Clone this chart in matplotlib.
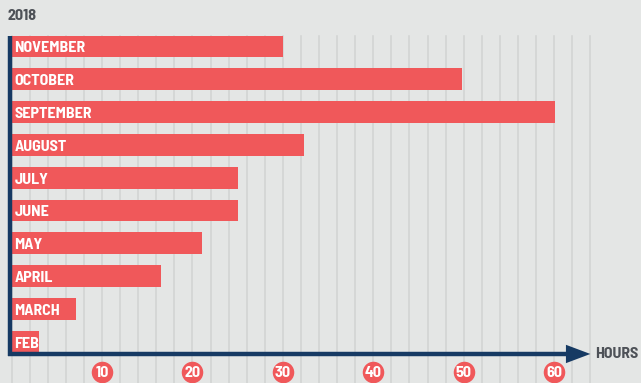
import matplotlib.pyplot as plt
import numpy as np

months = ['NOVEMBER', 'OCTOBER', 'SEPTEMBER', 'AUGUST', 'JULY', 'JUNE',
          'MAY', 'APRIL', 'MARCH', 'FEB']
hours = [30, 49.8, 60, 32.3, 25, 25, 21, 16.5, 7.1, 3]
ticks = [10, 20, 30, 40, 50, 60]

bg = '#e4e6e5'
red = '#f0585a'
navy = '#163a63'
font = ['Barlow Semi Condensed', 'Roboto Condensed', 'Roboto', 'DejaVu Sans']
wt = 'bold'

fig = plt.figure(figsize=(6.41, 3.83), dpi=100, facecolor=bg)
ax = fig.add_axes([0, 0, 1, 1])
ax.set_facecolor(bg)
ax.set_xlim(-1.28, 69.6)
ax.set_ylim(10.26, -1.418)
ax.axis('off')

# grid lines
for gx in np.arange(0, 65, 2):
    ax.plot([gx, gx], [-0.33, 10.3], color='#d3d5d4', lw=1.2, zorder=0)

# bars
y = np.arange(len(months))
ax.barh(y, hours, height=0.67, color=red, left=0.05, zorder=2)
for yi, m in zip(y, months):
    ax.text(0.3, yi + 0.06, m, color='white', fontsize=11.5, fontweight=wt,
            family=font, va='center', ha='left', zorder=3)

# axes
axis_y = 9.375
ax.plot([-0.15, -0.15], [-0.33, axis_y + 0.05], color=navy, lw=3.2,
        solid_capstyle='butt', zorder=4)
ax.plot([-0.35, 61.5], [axis_y, axis_y], color=navy, lw=3.2,
        solid_capstyle='butt', zorder=4)
ax.fill([61.3, 64.0, 61.3], [axis_y - 0.28, axis_y, axis_y + 0.28],
        color=navy, lw=0, zorder=4)
ax.text(64.5, axis_y, 'HOURS', color='#4d5157', fontsize=11.5, fontweight=wt,
        family=font, va='center', ha='left')

# tick labels
ax.scatter(ticks, [9.92] * len(ticks), s=240, color=red, zorder=5, lw=0)
for t in ticks:
    ax.text(t, 9.95, str(t), color='white', fontsize=11.5, fontweight=wt,
            family=font, va='center', ha='center', zorder=6)

fig.text(8 / 641, 1 - 16 / 383, '2018', color='#4d5157', fontsize=11.5,
         fontweight=wt, family=font, va='center', ha='left')

fig.savefig('out.png', dpi=100, facecolor=bg)
